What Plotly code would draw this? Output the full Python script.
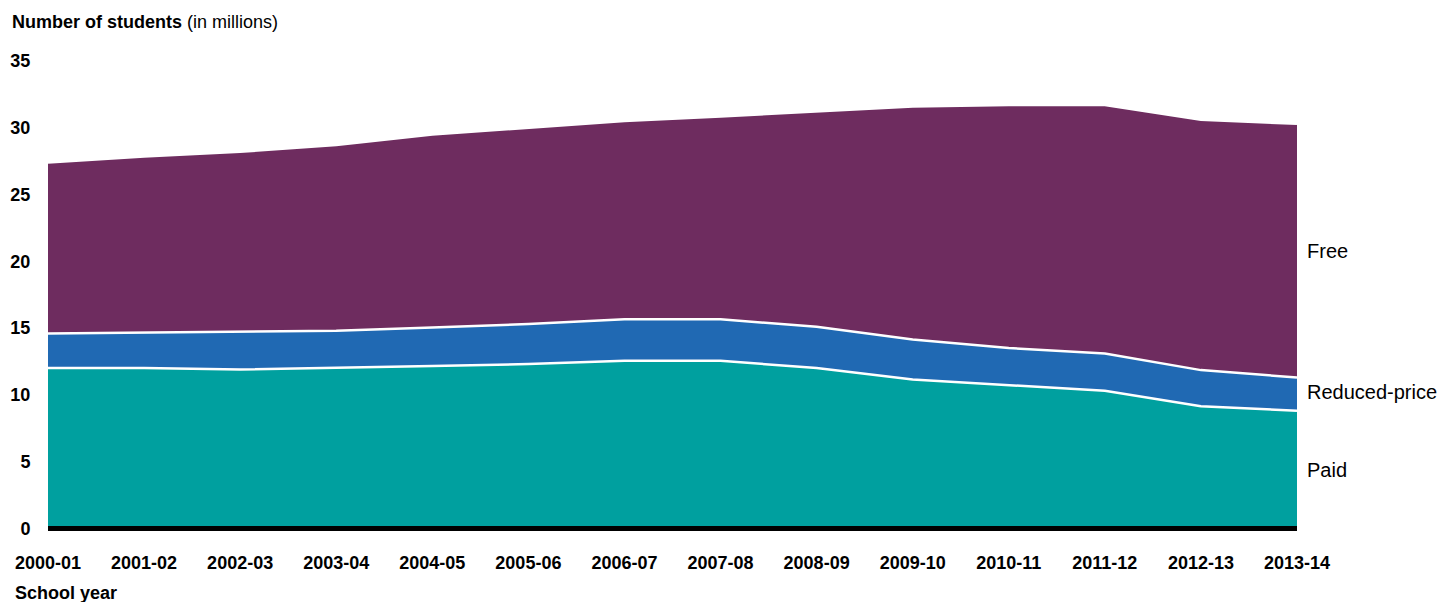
import plotly.graph_objects as go

years = ["2000-01", "2001-02", "2002-03", "2003-04", "2004-05", "2005-06", "2006-07",
         "2007-08", "2008-09", "2009-10", "2010-11", "2011-12", "2012-13", "2013-14"]
paid = [12.0, 12.0, 11.9, 12.0, 12.15, 12.3, 12.55, 12.55, 12.0, 11.15, 10.7, 10.3, 9.15, 8.8]
reduced = [2.6, 2.65, 2.8, 2.8, 2.9, 3.0, 3.1, 3.1, 3.1, 3.0, 2.8, 2.8, 2.7, 2.5]
free = [12.8, 13.2, 13.5, 13.9, 14.45, 14.7, 14.85, 15.2, 16.1, 17.45, 18.2, 18.6, 18.75, 19.0]

y_ticks = [0, 5, 10, 15, 20, 25, 30, 35]

FONT = "Liberation Sans, Arial, sans-serif"
colors = {"Paid": "#00A09F", "Reduced-price": "#2069B3", "Free": "#6E2C5F"}

W, H = 1445, 602
ML, MR, MT, MB = 48, 148, 61, 71
PW = W - ML - MR
PH = H - MT - MB
Y0, Y1 = -0.2, 35

fig = go.Figure()
for name, vals in [("Paid", paid), ("Reduced-price", reduced), ("Free", free)]:
    fig.add_trace(go.Scatter(
        x=years, y=vals, name=name, stackgroup="one", mode="lines",
        line=dict(color="white", width=2.5), fillcolor=colors[name],
        hoverinfo="skip",
    ))

fig.update_layout(
    width=W, height=H,
    margin=dict(l=ML, r=MR, t=MT, b=MB),
    paper_bgcolor="white", plot_bgcolor="white",
    showlegend=False,
    font=dict(family=FONT, color="black"),
    xaxis=dict(
        type="category", automargin=False,
        range=[0, len(years) - 1], showgrid=False, zeroline=False,
        showline=False,
        ticks="outside", ticklen=15, tickcolor="rgba(0,0,0,0)",
        tickfont=dict(family=FONT, size=18, color="black", weight="bold"),
    ),
    yaxis=dict(
        automargin=False,
        range=[Y0, Y1], showgrid=False, showline=False,
        zeroline=True, zerolinecolor="black", zerolinewidth=5,
        tickvals=y_ticks, ticks="outside", ticklen=13, tickcolor="rgba(0,0,0,0)",
        tickfont=dict(family=FONT, size=18, color="black", weight="bold"),
    ),
)
try:
    fig.update_yaxes(zerolinelayer="above traces")
except Exception:
    pass

def py_to_paper(py):
    return (H - MB - py) / PH

fig.add_annotation(xref="paper", yref="paper", x=-ML / PW, y=py_to_paper(22),
                   xanchor="left", yanchor="middle", showarrow=False,
                   text="<b>Number of students</b> (in millions)",
                   font=dict(family=FONT, size=18, color="black"), xshift=10)
fig.add_annotation(xref="paper", yref="paper", x=-ML / PW, y=py_to_paper(593),
                   xanchor="left", yanchor="middle", showarrow=False,
                   text="<b>School year</b>",
                   font=dict(family=FONT, size=18, color="black"), xshift=13)

labels = [("Free", 251), ("Reduced-price", 392), ("Paid", 470)]
for txt, py in labels:
    fig.add_annotation(xref="paper", yref="paper", x=1, y=py_to_paper(py),
                       xanchor="left", yanchor="middle", showarrow=False,
                       text=txt, xshift=8,
                       font=dict(family=FONT, size=20, color="black"))

fig.write_html("out.html", config={"displayModeBar": False},
               post_script="document.body.style.margin='0';")
